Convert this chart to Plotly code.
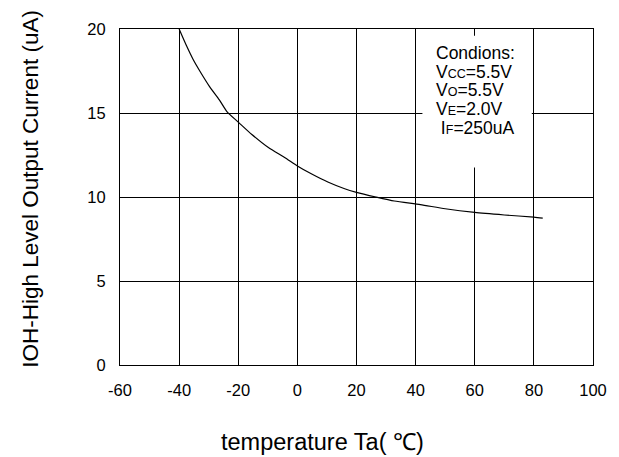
import plotly.graph_objects as go

temp_c = [-40, -37.5, -35.3, -32.5, -29.7, -26.4, -23.7, -20, -15.4, -9.8, -4.3, 0,
          4.7, 10.3, 16, 20, 26.6, 32.8, 41.6, 50, 60, 70, 80, 83]
ioh_ua = [20.0, 19.0, 18.2, 17.35, 16.57, 15.78, 15.05, 14.46, 13.72, 12.94, 12.35, 11.85,
          11.38, 10.89, 10.49, 10.28, 10.0, 9.76, 9.55, 9.3, 9.08, 8.93, 8.80, 8.74]

x_ticks = [-60, -40, -20, 0, 20, 40, 60, 80, 100]
x_tick_text = ["-60", "-40", "-20", "0", "20", "40", "60", "80", "100"]
y_ticks = [0, 5, 10, 15, 20]
y_tick_text = ["0", "5", "10", "15", "20"]

cond_lines = [
    "Condions:",
    "V<span style='font-size:12.5px'>CC</span>=5.5V",
    "V<span style='font-size:12.5px'>O</span>=5.5V",
    "V<span style='font-size:12.5px'>E</span>=2.0V",
    " I<span style='font-size:12.5px'>F</span>=250uA",
]

FONT = "Liberation Sans, Arial, sans-serif"

fig = go.Figure()
fig.add_trace(go.Scatter(
    x=temp_c, y=ioh_ua, mode="lines",
    line=dict(color="black", width=1.2, shape="spline", smoothing=0.6),
    hoverinfo="skip", showlegend=False,
))

axis_common = dict(
    showgrid=True, gridcolor="black", gridwidth=1,
    showline=True, linecolor="black", linewidth=1, mirror=True,
    zeroline=False, ticks="", ticklabelstandoff=10,
    tickfont=dict(family=FONT, size=16.5, color="black"),
)
fig.update_xaxes(range=[-60, 100], tickvals=x_ticks, ticktext=x_tick_text, **axis_common)
fig.update_yaxes(range=[0, 20], tickvals=y_ticks, ticktext=y_tick_text, **axis_common)

# white box behind the conditions text
fig.add_shape(type="rect", xref="x", yref="y", x0=42.3, x1=79.3, y0=11.75, y1=19.6,
              fillcolor="white", line=dict(width=0), layer="above")

cond_y = [18.58, 17.47, 16.38, 15.23, 14.11]
for txt, yy in zip(cond_lines, cond_y):
    fig.add_annotation(x=46.2, y=yy, xref="x", yref="y", text=txt, showarrow=False,
                       xanchor="left", yanchor="middle",
                       font=dict(family=FONT, size=17.5, color="black"))

fig.add_annotation(x=0.429, y=-0.228, xref="paper", yref="paper",
                   text="temperature Ta( \u2103)", showarrow=False,
                   xanchor="center", yanchor="middle",
                   font=dict(family=FONT, size=23.5, color="black"))
fig.add_annotation(x=-0.19, y=0.525, xref="paper", yref="paper",
                   text="IOH-High Level Output Current (uA)", showarrow=False,
                   textangle=-90, xanchor="center", yanchor="middle",
                   font=dict(family=FONT, size=22.5, color="black"))

fig.update_layout(
    width=611, height=449,
    margin=dict(l=112, r=19, t=20, b=92),
    paper_bgcolor="white", plot_bgcolor="white",
)

fig.write_html("out.html")
